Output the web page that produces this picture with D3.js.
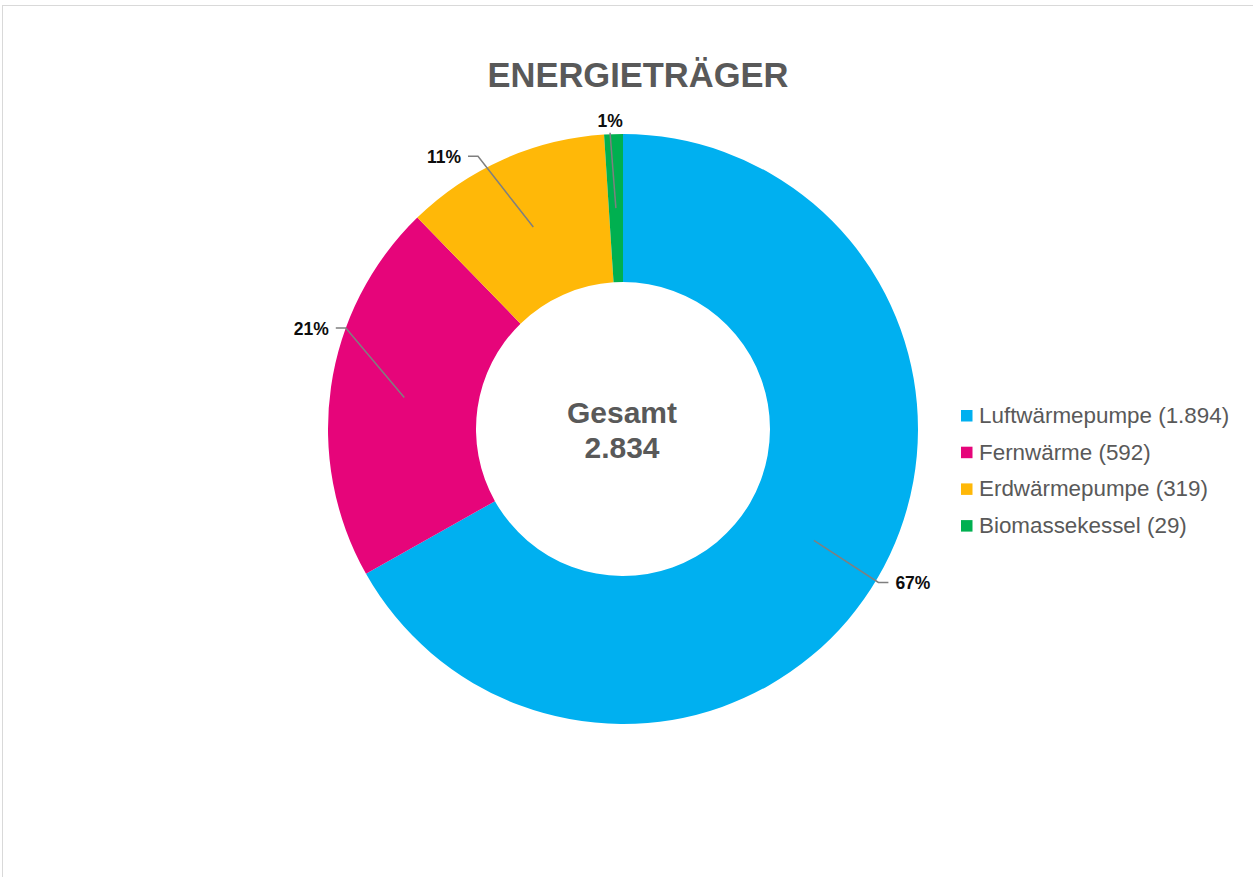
<!DOCTYPE html>
<html>
<head>
<meta charset="utf-8">
<script src="https://cdn.jsdelivr.net/npm/d3@7/dist/d3.min.js"></script>
<style>
  html, body { margin: 0; padding: 0; background: #ffffff; }
  svg { display: block; font-family: "Liberation Sans", Arial, sans-serif; }
</style>
</head>
<body>
<svg id="chart" width="1253" height="877"></svg>
<script>
// Heating energy sources (number of systems)
const categories = ["Luftwärmepumpe", "Fernwärme", "Erdwärmepumpe", "Biomassekessel"];
const values = [1894, 592, 319, 29];
const colors = ["#00B0F0", "#E6057A", "#FFB808", "#00B050"];
const titleText = "ENERGIETRÄGER";
const centerLabel = "Gesamt";

// Where each percent label's leader line bends (angle in degrees clockwise from top, radius factor)
const labelLayout = [
  { angle: 121, rf: 1.01, tail: 10 },
  { angle: 290, rf: 1.0, tail: -10 },
  { angle: 332, rf: 1.047, tail: -10 },
  { angle: 357.5, rf: 1.005, tail: 0 }
];

const fmtDE = d3.formatLocale({ decimal: ",", thousands: ".", grouping: [3], currency: ["", " €"] });
const fmtInt = fmtDE.format(",d");

const svg = d3.select("#chart");
const W = 1253, H = 877;

// chart area frame
svg.append("rect")
  .attr("x", 2.5).attr("y", 5.5)
  .attr("width", W + 10).attr("height", H + 10)
  .attr("fill", "#ffffff")
  .attr("stroke", "#d9d9d9").attr("stroke-width", 1);

// title
svg.append("text")
  .attr("x", 638).attr("y", 87)
  .attr("text-anchor", "middle")
  .attr("font-size", 34.5).attr("font-weight", "bold")
  .attr("fill", "#595959")
  .text(titleText);

const cx = 623, cy = 429;
const outerR = 295, innerR = 147;

const total = d3.sum(values);
const data = categories.map((c, i) => ({ name: c, value: values[i], color: colors[i] }));

const pie = d3.pie().value(d => d.value).sort(null).startAngle(0).endAngle(2 * Math.PI);
const arcs = pie(data);
const arc = d3.arc().innerRadius(innerR).outerRadius(outerR);

const g = svg.append("g").attr("transform", `translate(${cx},${cy})`);

g.selectAll("path.slice")
  .data(arcs)
  .join("path")
  .attr("class", "slice")
  .attr("d", arc)
  .attr("fill", d => d.data.color);

// leader lines + percent labels
const midR = (innerR + outerR) / 2;
const polar = (angleRad, r) => [r * Math.sin(angleRad), -r * Math.cos(angleRad)];

arcs.forEach((a, i) => {
  const lay = labelLayout[i];
  const mid = (a.startAngle + a.endAngle) / 2;
  const p0 = polar(mid, midR);
  const p1 = polar(lay.angle * Math.PI / 180, outerR * lay.rf);
  const pct = Math.round(a.data.value / total * 100) + "%";
  const pts = [p0, p1];
  if (lay.tail !== 0) pts.push([p1[0] + lay.tail, p1[1]]);
  g.append("path")
    .attr("d", d3.line()(pts))
    .attr("fill", "none")
    .attr("stroke", "#7f7f7f")
    .attr("stroke-width", 1.5);
  const t = g.append("text")
    .attr("font-size", 17.5).attr("font-weight", "bold")
    .attr("fill", "#0d0d0d")
    .text(pct);
  if (lay.tail > 0) {
    t.attr("x", p1[0] + lay.tail + 7).attr("y", p1[1] + 6.5).attr("text-anchor", "start");
  } else if (lay.tail < 0) {
    t.attr("x", p1[0] + lay.tail - 7).attr("y", p1[1] + 6.5).attr("text-anchor", "end");
  } else {
    t.attr("x", p1[0]).attr("y", p1[1] - 6).attr("text-anchor", "middle");
  }
});

// total in the hole
g.append("text")
  .attr("x", -1).attr("y", -6)
  .attr("text-anchor", "middle")
  .attr("font-size", 30).attr("font-weight", "bold")
  .attr("fill", "#595959")
  .text(centerLabel);
g.append("text")
  .attr("x", -1).attr("y", 29)
  .attr("text-anchor", "middle")
  .attr("font-size", 30).attr("font-weight", "bold")
  .attr("fill", "#595959")
  .text(fmtInt(total));

// legend
const legend = svg.append("g").attr("transform", "translate(961,410)");
const rowH = 36.7;
data.forEach((d, i) => {
  const row = legend.append("g").attr("transform", `translate(0,${i * rowH})`);
  row.append("rect")
    .attr("x", 0).attr("y", 0)
    .attr("width", 11.5).attr("height", 11.5)
    .attr("fill", d.color);
  row.append("text")
    .attr("x", 18).attr("y", 13)
    .attr("font-size", 22.4)
    .attr("fill", "#595959")
    .text(`${d.name} (${fmtInt(d.value)})`);
});
</script>
</body>
</html>
